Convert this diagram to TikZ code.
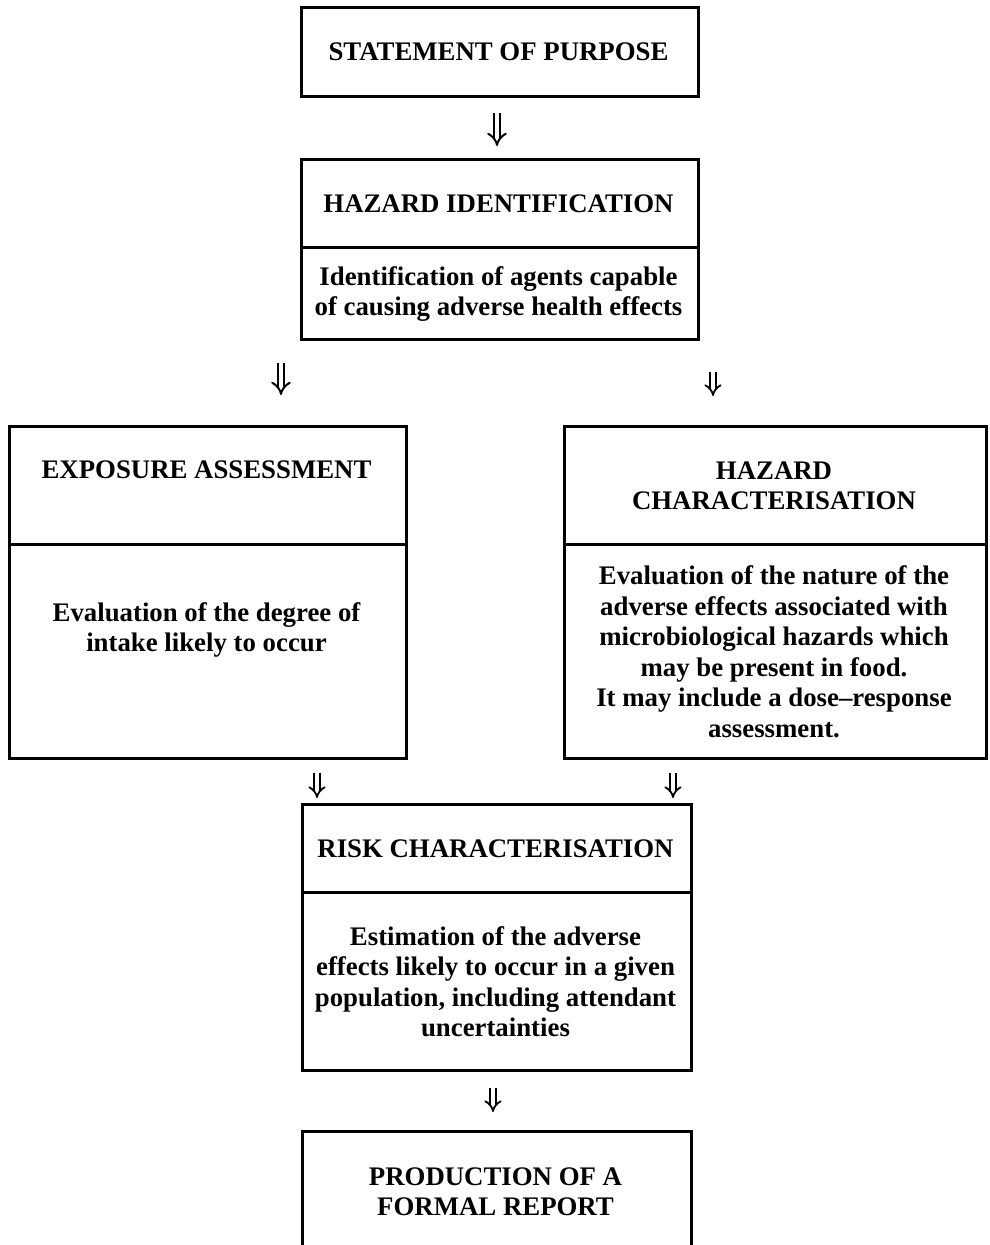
\documentclass[tikz,border=0pt]{standalone}
\usepackage{fontspec}
\setmainfont{Liberation Serif}
\usetikzlibrary{arrows.meta}
\begin{document}
\begin{tikzpicture}[x=1pt,y=-1pt,
  box/.style={draw, line width=2.9pt, anchor=north west, inner sep=0pt},
  txt/.style={font=\bfseries\fontsize{26.8}{30.5}\selectfont, align=center, inner sep=0pt},
  dar/.style={double, line width=2pt, double distance=4.6pt, -{Implies[length=9pt,width=17pt]}},
  sdar/.style={double, line width=1.8pt, double distance=4pt, -{Implies[length=7.5pt,width=14pt]}},
]
\useasboundingbox (0,0) rectangle (989,1245);
\clip (0,0) rectangle (989,1245);

% boxes
\node[box, minimum width=397pt, minimum height=89pt] (sop) at (300,6) {};
\node[box, minimum width=397pt, minimum height=88pt] (hid) at (300,158) {};
\node[box, minimum width=397pt, minimum height=92pt] (hidB) at (300,246) {};
\node[box, minimum width=397pt, minimum height=118pt] (exp) at (8,425) {};
\node[box, minimum width=397pt, minimum height=214pt] (expB) at (8,543) {};
\node[box, minimum width=422pt, minimum height=118pt] (hch) at (563,425) {};
\node[box, minimum width=422pt, minimum height=214pt] (hchB) at (563,543) {};
\node[box, minimum width=389pt, minimum height=88pt] (risk) at (301,803) {};
\node[box, minimum width=389pt, minimum height=178pt] (riskB) at (301,891) {};
\node[box, minimum width=389pt, minimum height=132pt] (rep) at (301,1130) {};

% texts
\node[txt] (sopT) at (498.5,52) {STATEMENT OF PURPOSE};
\node[txt] (hidT) at (498.5,204) {HAZARD IDENTIFICATION};
\node[txt] (hidD) at (498.5,294) {Identification of agents capable\\of causing adverse health effects};
\node[txt] (expT) at (206.5,470) {EXPOSURE ASSESSMENT};
\node[txt] (expD) at (206.5,630) {Evaluation of the degree of\\intake likely to occur};
\node[txt] (hchT) at (774,486) {HAZARD\\CHARACTERISATION};
\node[txt] (hchD) at (774,651.5) {Evaluation of the nature of the\\adverse effects associated with\\microbiological hazards which\\may be present in food.\\It may include a dose–response\\assessment.};
\node[txt] (riskT) at (495.5,849) {RISK CHARACTERISATION};
\node[txt] (riskD) at (495.5,981.5) {Estimation of the adverse\\effects likely to occur in a given\\population, including attendant\\uncertainties};
\node[txt] (repT) at (495.5,1191.5) {PRODUCTION OF A\\FORMAL REPORT};

% arrows
\coordinate (a1s) at (497,113); \coordinate (a1e) at (497,146);
\coordinate (a2s) at (281,363); \coordinate (a2e) at (281,395);
\coordinate (a3s) at (713,372); \coordinate (a3e) at (713,396);
\coordinate (a4s) at (317,773); \coordinate (a4e) at (317,798);
\coordinate (a5s) at (673,773); \coordinate (a5e) at (673,798);
\coordinate (a6s) at (493,1088); \coordinate (a6e) at (493,1112);
\draw[dar] (a1s) -- (a1e);
\draw[dar] (a2s) -- (a2e);
\draw[sdar] (a3s) -- (a3e);
\draw[sdar] (a4s) -- (a4e);
\draw[sdar] (a5s) -- (a5e);
\draw[sdar] (a6s) -- (a6e);
\end{tikzpicture}
\end{document}
